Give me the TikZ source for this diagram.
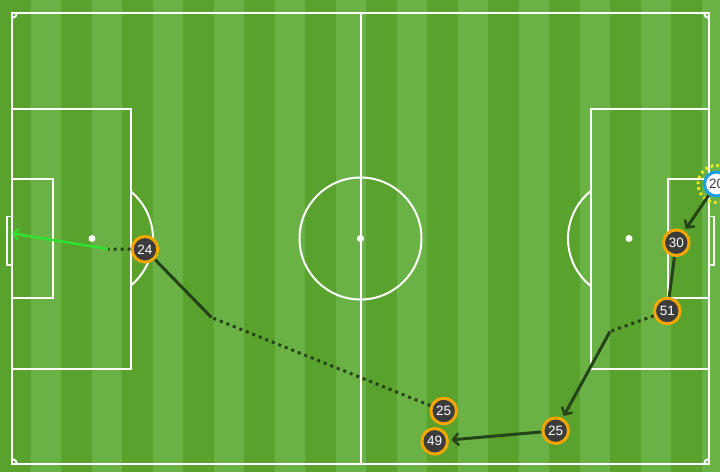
\documentclass[tikz,border=0pt]{standalone}
\usepackage{fontspec}
\setmainfont{Liberation Sans}
\usetikzlibrary{arrows.meta}
\definecolor{pitchlight}{RGB}{106,178,70}
\definecolor{pitchdark}{RGB}{88,162,45}
\definecolor{ringorange}{RGB}{245,166,0}
\definecolor{discgray}{RGB}{60,60,60}
\definecolor{ringblue}{RGB}{28,160,226}
\definecolor{shotgreen}{RGB}{50,225,50}
\definecolor{spotyellow}{RGB}{240,232,40}
\definecolor{passdark}{RGB}{38,66,24}
\pgfdeclarelayer{bg}
\pgfdeclarelayer{lines}
\pgfsetlayers{bg,lines,main}
\begin{document}
\begin{tikzpicture}[x=1pt,y=-1pt,
  pline/.style={white,line width=2pt},
  player/.style={circle,draw=ringorange,fill=discgray,line width=3pt,minimum size=25.6pt,inner sep=0pt,text=white,font=\fontsize{13.5}{13.5}\selectfont},
  shooter/.style={circle,draw=ringblue,fill=white,line width=3pt,minimum size=24pt,inner sep=0pt,text=discgray,font=\fontsize{13.5}{13.5}\selectfont},
  passline/.style={draw=passdark,line width=3pt},
  passarrow/.style={passline,shorten >=2.5pt,-{Straight Barb[length=5.5pt,width=12pt,line width=2.5pt]}},
  carry/.style={draw=passdark,line width=3pt,dash pattern=on 3pt off 4pt},
  shot/.style={draw=shotgreen,line width=2.5pt,-{Straight Barb[length=5pt,width=11pt,line width=2pt]}}
]
\useasboundingbox (0,0) rectangle (720,472);
\begin{pgfonlayer}{bg}
\fill[pitchlight] (0,0) rectangle (720,472);
\foreach \k in {0,2,...,22} \fill[pitchdark] ({30.5*\k},0) rectangle ({30.5*(\k+1)},472);
% outer lines
\draw[pline] (12,13) rectangle (709,464);
\draw[pline] (360.5,13) -- (360.5,464);
\draw[pline] (360.5,238.5) circle[radius=61];
\fill[white] (360.5,238.5) circle[radius=3.5];
% corners
\draw[pline] (17,13) arc[start angle=0,end angle=90,radius=5];
\draw[pline] (704,13) arc[start angle=180,end angle=90,radius=5];
\draw[pline] (12,459) arc[start angle=-90,end angle=0,radius=5];
\draw[pline] (704,464) arc[start angle=180,end angle=270,radius=5];
% left end
\draw[pline] (12,108.5) rectangle (130.7,368.5);
\draw[pline] (12,179) rectangle (53,298);
\draw[pline,line width=1.6pt] (7,216.5) rectangle (12,265);
\fill[white] (92,238.5) circle[radius=3.5];
\draw[pline] (92,238.5) ++(-50.6:61) arc[start angle=-50.6,end angle=50.6,radius=61];
% right end
\draw[pline] (590.7,108.5) rectangle (709,368.5);
\draw[pline] (668,179) rectangle (709,298);
\draw[pline,line width=1.6pt] (709,216.5) rectangle (714,265);
\fill[white] (629,238.5) circle[radius=3.5];
\draw[pline] (629,238.5) ++(129.4:61) arc[start angle=129.4,end angle=230.6,radius=61];
\end{pgfonlayer}

% players
\node[player] (p24) at (145,249.3) {24};
\node[player] (p30) at (676.3,242.7) {30};
\node[player] (p51) at (667.3,311) {51};
\node[player] (p25b) at (555.7,430.7) {25};
\node[player] (p25a) at (443.7,411) {25};
\node[player] (p49) at (434.7,441.3) {49};
\node[shooter] (p20) at (716.5,184) {20};

\coordinate (c1) at (610,331.5);
\coordinate (c2) at (211.5,317.5);
\coordinate (c3) at (108,249);
\coordinate (goal) at (12,233.3);

\begin{pgfonlayer}{lines}
\draw[spotyellow,line width=3pt,dash pattern=on 2.6pt off 3.2pt] (p20.center) circle[radius=18.5];
\draw[passarrow] (p20) -- (p30);
\draw[passline] (p30) -- (p51);
\draw[carry] (p51) -- (c1);
\draw[passarrow] (c1) -- (p25b);
\draw[passarrow] (p25b) -- (p49);
\draw[carry] (p25a) -- (c2);
\draw[passline] (c2) -- (p24);
\draw[carry] (p24) -- (c3);
\draw[shot] (c3) -- (goal);
\end{pgfonlayer}
\end{tikzpicture}
\end{document}
